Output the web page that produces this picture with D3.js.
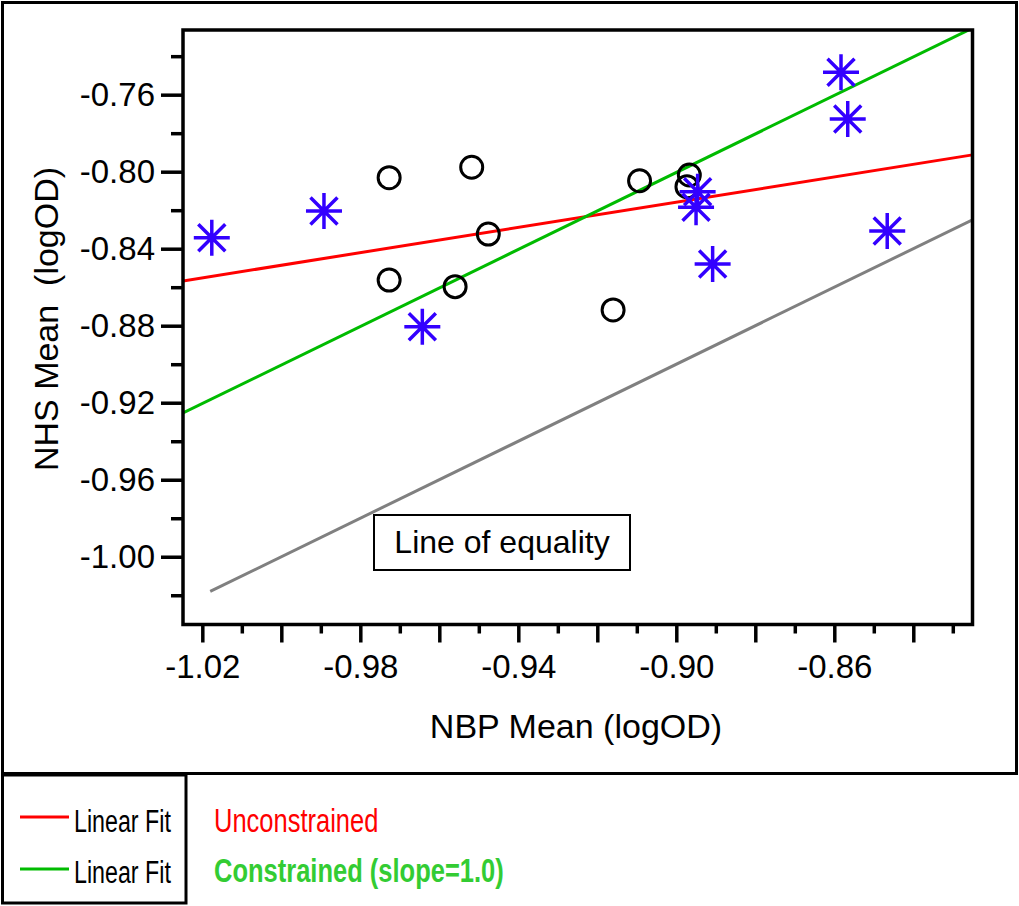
<!DOCTYPE html>
<html>
<head>
<meta charset="utf-8">
<script src="https://cdn.jsdelivr.net/npm/d3@7"></script>
<style>
  html, body { margin: 0; padding: 0; background: #fff; }
  svg { display: block; font-family: "Liberation Sans", Arial, sans-serif; }
</style>
</head>
<body>
<svg id="chart" width="1019" height="906"></svg>
<script>
// ---- data ----
const circleX = [-0.9727, -0.9518, -0.9476, -0.9727, -0.9560, -0.9093, -0.8967, -0.8973, -0.9160];
const circleY = [-0.8031, -0.7977, -0.8324, -0.8563, -0.8597, -0.8047, -0.8017, -0.8078, -0.8718];
const starX = [-1.0176, -0.9892, -0.9643, -0.8946, -0.8950, -0.8908, -0.8583, -0.8566, -0.8466];
const starY = [-0.8343, -0.8204, -0.8805, -0.8104, -0.8185, -0.8480, -0.7484, -0.7726, -0.8308];

const fitNames = ["Unconstrained", "Constrained (slope=1.0)"];
const fitSlopes = [0.3276, 1.0];
const fitIntercepts = [-0.5210, 0.0996];
const equalityStart = -1.018;

const xMajorTicks = [-1.02, -1.00, -0.98, -0.96, -0.94, -0.92, -0.90, -0.88, -0.86, -0.84];
const xMinorTicks = [-1.01, -0.99, -0.97, -0.95, -0.93, -0.91, -0.89, -0.87, -0.85, -0.83];
const xTickLabels = ["-1.02", "-0.98", "-0.94", "-0.90", "-0.86"];
const yMajorTicks = [-1.00, -0.96, -0.92, -0.88, -0.84, -0.80, -0.76];
const yMinorTicks = [-1.02, -0.98, -0.94, -0.90, -0.86, -0.82, -0.78, -0.74];
const yTickLabels = ["-1.00", "-0.96", "-0.92", "-0.88", "-0.84", "-0.80", "-0.76"];

// ---- layout ----
const svg = d3.select("#chart");
const L = 183, R = 972.5, T = 30, B = 624.5;
const x = d3.scaleLinear().domain([-1.02489, -0.82501]).range([L, R]);
const y = d3.scaleLinear().domain([-1.0352, -0.7264]).range([B, T]);

// outer frame
svg.append("rect").attr("x", 2.5).attr("y", 2.5).attr("width", 1014).attr("height", 771)
  .attr("fill", "none").attr("stroke", "#000").attr("stroke-width", 3);
// legend frame
svg.append("rect").attr("x", 2.5).attr("y", 775).attr("width", 183.5).attr("height", 128)
  .attr("fill", "none").attr("stroke", "#000").attr("stroke-width", 3);

svg.append("defs").append("clipPath").attr("id", "plotclip")
  .append("rect").attr("x", L).attr("y", T).attr("width", R - L).attr("height", B - T);

// axes
const fmt = d => { const s = d.toFixed(2); return (xTickLabels.includes(s)) ? s : ""; };
const xAxisMaj = d3.axisBottom(x).tickValues(xMajorTicks).tickSize(18).tickPadding(12)
  .tickFormat(d => xTickLabels.includes(d.toFixed(2)) ? d.toFixed(2) : "");
const xAxisMin = d3.axisBottom(x).tickValues(xMinorTicks).tickSize(9).tickFormat("");
const yAxisMaj = d3.axisLeft(y).tickValues(yMajorTicks).tickSize(22).tickPadding(6)
  .tickFormat(d => yTickLabels.includes(d.toFixed(2)) ? d.toFixed(2) : "");
const yAxisMin = d3.axisLeft(y).tickValues(yMinorTicks).tickSize(12).tickFormat("");

function styleAxis(g) {
  g.select(".domain").remove();
  g.selectAll(".tick line").attr("stroke", "#000").attr("stroke-width", 3.5);
  g.selectAll(".tick text").attr("fill", "#000").style("font-size", "33px")
    .style("font-family", '"Liberation Sans", Arial, sans-serif');
}
svg.append("g").attr("transform", `translate(0,${B})`).call(xAxisMaj).call(styleAxis)
  .selectAll(".tick text").attr("dy", "0.71em");
svg.append("g").attr("transform", `translate(0,${B})`).call(xAxisMin).call(styleAxis);
svg.append("g").attr("transform", `translate(${L},0)`).call(yAxisMaj).call(styleAxis);
svg.append("g").attr("transform", `translate(${L},0)`).call(yAxisMin).call(styleAxis);

// axis titles
svg.append("text").attr("x", 576).attr("y", 738).attr("text-anchor", "middle")
  .style("font-size", "34px").text("NBP Mean (logOD)");
svg.append("text").attr("transform", "translate(58,319) rotate(-90)").attr("text-anchor", "middle")
  .style("font-size", "34px").style("white-space", "pre").attr("xml:space", "preserve")
  .text("NHS Mean  (logOD)");

// plot content
const plot = svg.append("g").attr("clip-path", "url(#plotclip)");
const xd = x.domain();
// line of equality
plot.append("line")
  .attr("x1", x(equalityStart)).attr("y1", y(equalityStart))
  .attr("x2", x(xd[1])).attr("y2", y(xd[1]))
  .attr("stroke", "#808080").attr("stroke-width", 3);
const fitColors = ["#ff0000", "#00bb00"];
fitSlopes.forEach((s, i) => {
  plot.append("line")
    .attr("x1", x(xd[0])).attr("y1", y(fitIntercepts[i] + s * xd[0]))
    .attr("x2", x(xd[1])).attr("y2", y(fitIntercepts[i] + s * xd[1]))
    .attr("stroke", fitColors[i]).attr("stroke-width", 3);
});

// circles
plot.selectAll("circle.pt").data(d3.range(circleX.length)).join("circle")
  .attr("class", "pt")
  .attr("cx", i => x(circleX[i])).attr("cy", i => y(circleY[i])).attr("r", 11)
  .attr("fill", "none").attr("stroke", "#000").attr("stroke-width", 3);

// stars (asterisks)
const a = 18, dg = 13.5;
const starPath = `M${-a},0L${a},0M0,${-a}L0,${a}M${-dg},${-dg}L${dg},${dg}M${-dg},${dg}L${dg},${-dg}`;
plot.selectAll("path.star").data(d3.range(starX.length)).join("path")
  .attr("class", "star")
  .attr("transform", i => `translate(${x(starX[i])},${y(starY[i])})`)
  .attr("d", starPath).attr("fill", "none").attr("stroke", "#3300ff").attr("stroke-width", 3.5);

// plot frame
svg.append("rect").attr("x", L).attr("y", T).attr("width", R - L).attr("height", B - T)
  .attr("fill", "none").attr("stroke", "#000").attr("stroke-width", 3.5);

// line of equality label
svg.append("rect").attr("x", 374).attr("y", 515).attr("width", 256).attr("height", 55)
  .attr("fill", "#fff").attr("stroke", "#000").attr("stroke-width", 2);
svg.append("text").attr("x", 502).attr("y", 553).attr("text-anchor", "middle")
  .style("font-size", "32px").text("Line of equality");

// legend
const legY = [817, 869];
const legBase = [832, 883];
legY.forEach((ly, i) => {
  svg.append("line").attr("x1", 20).attr("x2", 69).attr("y1", ly).attr("y2", ly)
    .attr("stroke", fitColors[i]).attr("stroke-width", 3);
  svg.append("text").attr("transform", `translate(74,${legBase[i]}) scale(0.75,1)`)
    .style("font-size", "31px").attr("fill", "#000").text("Linear Fit");
});
svg.append("text").attr("transform", `translate(214,${legBase[0]}) scale(0.75,1)`)
  .style("font-size", "34px").attr("fill", "#ff0000").text(fitNames[0]);
svg.append("text").attr("transform", `translate(214,${legBase[1] - 1}) scale(0.75,1)`)
  .style("font-size", "34px").style("font-weight", "bold").attr("fill", "#33cc33").text(fitNames[1]);
</script>
</body>
</html>
